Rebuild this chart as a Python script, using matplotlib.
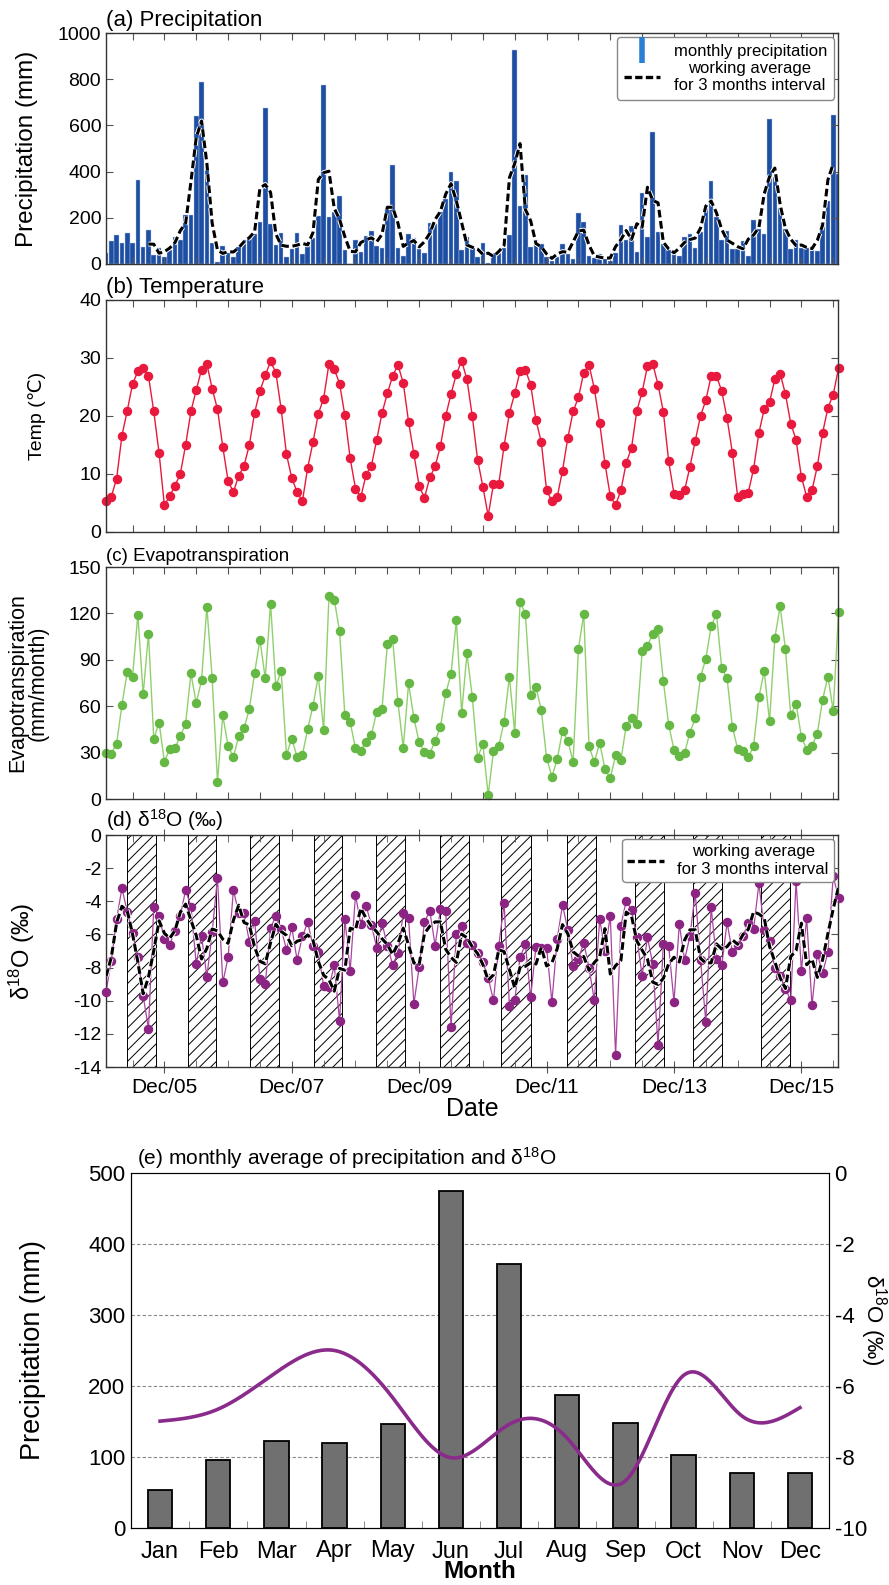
import numpy as np
import pandas as pd
import matplotlib
matplotlib.use('Agg')
import matplotlib.pyplot as plt
import matplotlib.patheffects as pe
from matplotlib.lines import Line2D

plt.rcParams['font.family'] = ['Liberation Sans', 'DejaVu Sans']
plt.rcParams['mathtext.fontset'] = 'custom'
plt.rcParams['mathtext.rm'] = 'Liberation Sans'
plt.rcParams['mathtext.it'] = 'Liberation Sans:italic'
plt.rcParams['hatch.linewidth'] = 0.7
plt.rcParams['axes.unicode_minus'] = False

# ---- monthly series, Jan 2005 .. Jul 2016 ----
start_month = '2005-01'

precip = [46, 98, 127, 92, 134, 91, 364, 72, 147, 40, 70, 30,
          60, 117, 102, 214, 213, 640, 790, 427, 92, 10, 79, 49,
          32, 75, 105, 109, 128, 183, 675, 174, 81, 134, 30, 66,
          134, 45, 89, 114, 207, 776, 203, 226, 294, 60, 0, 105,
          53, 120, 142, 78, 68, 240, 429, 68, 33, 128, 111, 66,
          46, 178, 174, 226, 283, 399, 361, 59, 117, 71, 30, 92,
          3, 46, 49, 68, 125, 928, 252, 384, 73, 105, 88, 30,
          13, 30, 88, 42, 23, 222, 183, 35, 27, 42, 20, 13,
          46, 167, 104, 163, 52, 308, 118, 571, 138, 85, 59, 52,
          35, 118, 128, 71, 138, 257, 358, 203, 104, 143, 63, 63,
          99, 35, 189, 153, 132, 627, 375, 244, 153, 63, 105, 71,
          71, 73, 56, 178, 271, 643, 390]

temp = [5.4, 6.1, 9.2, 16.6, 20.9, 25.5, 27.7, 28.3, 26.9, 20.8, 13.6, 4.6,
        6.2, 8.0, 10.0, 15.0, 20.8, 24.5, 28.0, 29.0, 24.7, 21.2, 14.7, 8.8,
        6.9, 9.7, 11.4, 15.0, 20.6, 24.3, 27.0, 29.4, 27.5, 21.2, 13.4, 9.3,
        6.9, 5.3, 11.1, 15.5, 20.4, 23.0, 29.0, 28.1, 25.6, 20.1, 12.7, 7.5,
        6.0, 9.9, 11.4, 15.9, 20.5, 23.9, 26.9, 28.8, 25.7, 19.0, 13.4, 7.9,
        5.9, 9.4, 11.3, 14.8, 20.0, 23.8, 27.2, 29.5, 26.3, 20.0, 12.5, 7.8,
        2.8, 8.3, 8.3, 14.9, 20.5, 23.9, 27.7, 28.0, 25.4, 19.3, 15.5, 7.2,
        5.3, 6.0, 10.6, 16.2, 20.8, 23.2, 27.5, 28.8, 24.7, 18.8, 11.8, 6.2,
        4.6, 7.2, 11.9, 14.5, 20.9, 24.1, 28.6, 29.0, 25.4, 20.7, 12.2, 6.6,
        6.3, 7.2, 11.2, 15.7, 20.0, 22.7, 26.9, 26.9, 24.3, 19.6, 13.7, 6.1,
        6.5, 6.8, 10.9, 17.1, 21.2, 22.4, 26.3, 27.3, 23.8, 18.7, 15.9, 9.5,
        6.1, 7.2, 11.3, 17.1, 21.4, 23.7, 28.2]

evapo = [29.8, 29.4, 35.8, 60.8, 82.3, 79.0, 119.2, 67.6, 106.8, 38.8, 49.4, 24.2,
         32.2, 32.8, 40.8, 48.7, 81.2, 62.0, 76.7, 124.4, 78.2, 11.3, 54.1, 34.3,
         27.2, 40.5, 45.7, 58.2, 81.6, 103.1, 78.0, 126.3, 72.8, 82.9, 28.5, 39.0,
         27.2, 28.5, 45.3, 60.3, 79.7, 44.8, 131.1, 128.9, 108.5, 54.1, 49.6, 32.8,
         31.3, 37.1, 41.6, 56.5, 58.4, 99.9, 103.5, 62.5, 33.2, 74.7, 52.4, 36.7,
         30.4, 29.4, 37.5, 46.6, 68.3, 81.0, 115.6, 55.6, 94.1, 66.1, 26.8, 35.4,
         2.5, 31.1, 34.5, 50.0, 79.2, 42.9, 127.4, 119.9, 67.4, 72.4, 57.5, 26.8,
         14.3, 25.7, 44.0, 37.5, 24.2, 96.9, 119.7, 34.1, 23.8, 36.2, 19.5, 13.4,
         28.3, 25.1, 47.4, 52.4, 48.7, 95.4, 99.0, 106.8, 110.0, 76.2, 48.0, 31.9,
         27.6, 29.8, 42.9, 52.1, 79.0, 90.6, 111.7, 119.7, 84.4, 78.2, 46.8, 32.2,
         30.9, 27.0, 34.3, 65.9, 82.7, 50.2, 104.2, 124.6, 96.7, 54.1, 61.6, 40.3,
         31.9, 34.3, 42.3, 64.2, 79.2, 57.1, 121.2]

d18o = [-9.48, -7.59, -5.08, -3.21, -4.62, -5.92, -7.37, -9.70, -11.69, -4.36, -4.88, -6.29,
        -6.63, -5.78, -4.88, -3.31, -4.32, -7.79, -6.08, -8.57, -5.88, -2.57, -8.90, -7.39,
        -3.31, -4.72, -4.68, -6.43, -5.18, -8.69, -9.00, -5.62, -4.88, -5.66, -6.93, -5.58,
        -7.53, -6.12, -5.28, -6.69, -7.09, -9.10, -9.20, -7.87, -11.20, -5.08, -8.19, -3.61,
        -5.38, -4.28, -5.42, -6.79, -5.32, -6.67, -7.83, -7.13, -4.72, -5.02, -10.18, -7.97,
        -5.26, -4.58, -6.67, -4.48, -4.58, -11.61, -5.98, -5.48, -6.49, -6.63, -7.13, -7.69,
        -8.63, -9.98, -6.69, -4.12, -10.30, -9.98, -7.39, -6.59, -9.80, -6.73, -6.83, -6.79,
        -10.08, -6.29, -4.22, -5.72, -7.93, -7.49, -6.49, -8.03, -9.98, -5.08, -6.99, -4.88,
        -13.29, -5.48, -3.96, -4.52, -6.18, -8.49, -6.18, -7.77, -12.69, -6.59, -6.67, -10.08,
        -5.38, -7.53, -6.12, -3.51, -7.53, -11.29, -4.36, -7.49, -7.87, -5.28, -7.07, -6.63,
        -6.08, -5.32, -5.68, -2.91, -5.72, -6.39, -8.03, -8.53, -9.28, -9.98, -2.75, -8.19,
        -5.02, -10.28, -7.17, -8.33, -7.07, -2.47, -3.82]

# hatched periods in (d), in month index from Jan 2005
band_start = [4.0, 15.4, 27.1, 39.1, 50.8, 63.0, 74.5, 86.8, 99.6, 110.6, 123.3]
band_end = [9.5, 20.8, 32.6, 44.5, 56.4, 68.4, 80.1, 92.4, 105.1, 116.1, 128.9]

# ---- monthly climatology (e) ----
month_names = ['Jan', 'Feb', 'Mar', 'Apr', 'May', 'Jun',
               'Jul', 'Aug', 'Sep', 'Oct', 'Nov', 'Dec']
month_precip = [54, 96, 122, 120, 146, 474, 372, 188, 148, 103, 78, 78]
month_d18o = [-6.99, -6.65, -5.61, -5.0, -6.33, -8.02,
              -7.08, -7.47, -8.67, -5.70, -6.84, -6.61]


def natural_spline(x, y, xs):
    x = np.asarray(x, float)
    y = np.asarray(y, float)
    n = len(x)
    h = np.diff(x)
    A = np.zeros((n, n))
    b = np.zeros(n)
    A[0, 0] = A[-1, -1] = 1
    for i in range(1, n - 1):
        A[i, i - 1] = h[i - 1]
        A[i, i] = 2 * (h[i - 1] + h[i])
        A[i, i + 1] = h[i]
        b[i] = 3 * ((y[i + 1] - y[i]) / h[i] - (y[i] - y[i - 1]) / h[i - 1])
    c = np.linalg.solve(A, b)
    bb = (y[1:] - y[:-1]) / h - h * (2 * c[:-1] + c[1:]) / 3
    d = (c[1:] - c[:-1]) / (3 * h)
    k = np.clip(np.searchsorted(x, xs) - 1, 0, n - 2)
    dx = xs - x[k]
    return y[k] + bb[k] * dx + c[k] * dx ** 2 + d[k] * dx ** 3


W, H = 889, 1585
fig = plt.figure(figsize=(W / 100, H / 100), dpi=100)


def box(l, t, r, b):
    return [l / W, 1 - b / H, (r - l) / W, (b - t) / H]


dates = pd.date_range(start_month, periods=len(precip), freq='MS')
t = np.arange(len(dates))
half_year = t[(dates.month == 6) | (dates.month == 12)]
dec_odd = t[(dates.month == 12) & (dates.year % 2 == 1)]
dec_labels = [d.strftime('%b/%y') for d in dates[dec_odd]]

frame_col = '#333333'


def style_ts(ax, title, title_fs, ylabel, ylabel_fs, ylim, yticks, labx):
    ax.set_xlim(0, 137.9)
    ax.set_ylim(*ylim)
    ax.set_yticks(yticks)
    ax.set_xticks(half_year)
    ax.set_xticklabels([])
    ax.tick_params(direction='in', top=True, right=True, length=5,
                   width=0.8, labelsize=14, color='#555555')
    for s in ax.spines.values():
        s.set_color(frame_col)
        s.set_linewidth(1.0)
    ax.text(0.0, 1.008, title, transform=ax.transAxes, ha='left', va='bottom',
            fontsize=title_fs)
    ax.set_ylabel(ylabel, fontsize=ylabel_fs, linespacing=1.0)
    ax.yaxis.set_label_coords(labx, 0.5)


# (a) precipitation
ax_a = fig.add_axes(box(106, 33, 838, 264))
ax_a.bar(t, precip, width=0.86, color='#1d4ea2', edgecolor='#b9cbe9', linewidth=0.3)
ma_p = pd.Series(precip, dtype=float).rolling(3, center=True).mean()
ma_p[:8] = np.nan
ax_a.plot(t, ma_p, color='black', lw=2.2, ls=(0, (2.5, 1.2)),
          path_effects=[pe.Stroke(linewidth=3.6, foreground='white'), pe.Normal()])
style_ts(ax_a, '(a) Precipitation', 16, 'Precipitation (mm)', 17.5, (0, 1000),
         np.arange(0, 1001, 200), -0.093)
h_bar = Line2D([], [], marker='|', ls='none', markersize=19, markeredgewidth=4,
               color='#2a7fd4')
h_ma = Line2D([], [], color='black', lw=2.4, ls=(0, (2.2, 1.0)))
leg = ax_a.legend([h_bar, h_ma], ['monthly precipitation',
                                  'working average\nfor 3 months interval'],
                  loc='upper right', fontsize=12, fancybox=True, framealpha=1,
                  edgecolor='#888888', handlelength=2.2, borderaxespad=0.25,
                  labelspacing=0.1, borderpad=0.4)
for txt in leg.get_texts():
    txt.set_multialignment('center')

# (b) temperature
ax_b = fig.add_axes(box(106, 300, 838, 532))
ax_b.plot(t, temp, '-o', color='#e8193c', lw=1.0, ms=5.8, clip_on=False)
style_ts(ax_b, '(b) Temperature', 16, 'Temp (\u2103)', 14, (0, 40),
         np.arange(0, 41, 10), -0.082)

# (c) evapotranspiration
ax_c = fig.add_axes(box(106, 567, 838, 799))
ax_c.plot(t, evapo, '-', color='#8fd06c', lw=1.0, clip_on=False)
ax_c.plot(t, evapo, 'o', color='#65b843', ms=5.8, clip_on=False)
style_ts(ax_c, '(c) Evapotranspiration', 13.5, 'Evapotranspiration\n(mm/month)', 15.5,
         (0, 150), np.arange(0, 151, 30), -0.078)

# (d) oxygen isotope
ax_d = fig.add_axes(box(106, 835, 838, 1067))
for s0, s1 in zip(band_start, band_end):
    ax_d.axvspan(s0, s1, facecolor='white', edgecolor='black', hatch='///',
                 lw=0.7, zorder=0)
ax_d.plot(t, d18o, '-', color='#a8459f', lw=0.9, zorder=2, clip_on=False)
ax_d.plot(t, d18o, 'o', color='#8c2483', ms=5.8, zorder=3, clip_on=False)
ma_o = pd.Series(d18o).rolling(3, center=True, min_periods=2).mean()
ax_d.plot(t, ma_o, color='black', lw=2.2, ls=(0, (2.5, 1.2)), zorder=4,
          path_effects=[pe.Stroke(linewidth=3.6, foreground='white'), pe.Normal()])
style_ts(ax_d, '(d) \u03b4$^{18}$O (\u2030)', 15, '\u03b4$^{18}$O (\u2030)', 17,
         (-14, 0), np.arange(-14, 1, 2), -0.094)
ax_d.set_xticks(half_year, minor=True)
ax_d.set_xticks(dec_odd)
ax_d.set_xticklabels(dec_labels, fontsize=15)
ax_d.tick_params(axis='x', which='major', direction='inout', length=9)
ax_d.tick_params(axis='x', which='minor', direction='in', length=5, top=True,
                 color='#555555')
ax_d.set_xlabel('Date', fontsize=18, labelpad=0)
leg_d = ax_d.legend([h_ma], ['working average\nfor 3 months interval'],
                    loc='upper right', fontsize=12, fancybox=True, framealpha=1,
                    edgecolor='#888888', handlelength=2.2, borderaxespad=0.25,
                    borderpad=0.3)
leg_d.set_zorder(10)
for txt in leg_d.get_texts():
    txt.set_multialignment('center')

# (e) monthly average
ax_e = fig.add_axes(box(131, 1173, 829, 1528))
xm = np.arange(len(month_names))
ax_e.bar(xm, month_precip, width=0.42, color='#707070', edgecolor='black',
         linewidth=1.3, zorder=3)
for yv in [100, 200, 300, 400]:
    ax_e.axhline(yv, color='#888888', lw=0.8, ls=(0, (3, 2)), zorder=1)
ax_e.set_xlim(-0.5, 11.5)
ax_e.set_ylim(0, 500)
ax_e.set_yticks(np.arange(0, 501, 100))
ax_e.set_xticks(xm)
ax_e.set_xticklabels(month_names, fontsize=17)
ax_e.set_xticks(xm[:-1] + 0.5, minor=True)
ax_e.tick_params(axis='x', which='major', length=0, pad=9)
ax_e.tick_params(axis='x', which='minor', direction='in', length=5, color='#777777')
ax_e.tick_params(axis='y', length=0, pad=4, labelsize=16)
ax_e.set_ylabel('Precipitation (mm)', fontsize=19.5)
ax_e.yaxis.set_label_coords(-0.122, 0.5)
ax_e.set_xlabel('Month', fontsize=17.5, fontweight='bold', labelpad=-2)
ax_e.text(0.008, 1.006, '(e) monthly average of precipitation and \u03b4$^{18}$O',
          transform=ax_e.transAxes, ha='left', va='bottom', fontsize=15)
for s in ax_e.spines.values():
    s.set_color('#555555')
ax_e.spines['left'].set_color('black')
ax_e.spines['bottom'].set_color('black')

ax_e2 = ax_e.twinx()
xs = np.linspace(0, 11, 300)
ax_e2.plot(xs, natural_spline(xm, month_d18o, xs), color='#8a2b8c', lw=2.6, zorder=4)
ax_e2.set_ylim(-10, 0)
ax_e2.set_yticks(np.arange(-10, 1, 2))
ax_e2.tick_params(axis='y', length=0, pad=4, labelsize=16)
ax_e2.set_ylabel('\u03b4$^{18}$O (\u2030)', fontsize=16, rotation=270)
ax_e2.yaxis.set_label_coords(1.086, 0.585)

fig.savefig('out.png', dpi=100)
